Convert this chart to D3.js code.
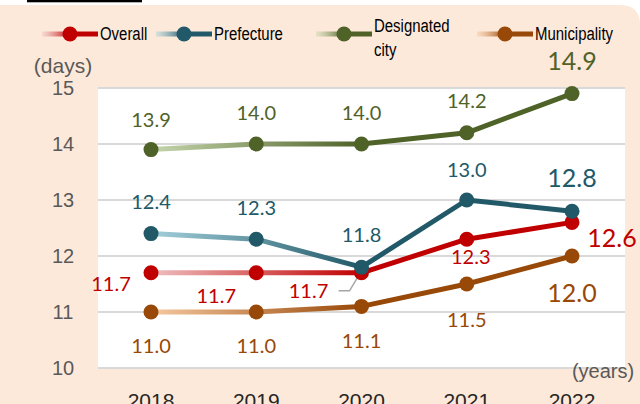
<!DOCTYPE html>
<html>
<head>
<meta charset="utf-8">
<script src="https://cdn.jsdelivr.net/npm/d3@7"></script>
<style>
  body { margin: 0; background: #fff; }
  svg { display: block; }
</style>
</head>
<body>
<svg id="chart" width="640" height="404"></svg>
<script>
// data
const years = ["2018", "2019", "2020", "2021", "2022"];
const overall = [11.7, 11.7, 11.7, 12.3, 12.6];
const prefecture = [12.4, 12.3, 11.8, 13.0, 12.8];
const designated = [13.9, 14.0, 14.0, 14.2, 14.9];
const municipality = [11.0, 11.0, 11.1, 11.5, 12.0];
const yTicks = [10, 11, 12, 13, 14, 15];

const seriesNames = ["Overall", "Prefecture", "Designated city", "Municipality"];
const seriesValues = [overall, prefecture, designated, municipality];
const seriesColors = ["#c00000", "#215968", "#4f6228", "#984807"];
const seriesLight = ["#efbfc1", "#a3cfdb", "#c6d6ad", "#f6c8a0"];

// label offsets (dx, dy to baseline) from each point
const labelOffsets = [
  [[-40, 18], [-40, 30], [-53, 25], [4, 25], [40, 25]],
  [[0, -25], [0, -24], [0, -25], [0, -23], [0, -24]],
  [[0, -23], [0, -24], [0, -24], [0, -25], [0, -24]],
  [[0, 41], [0, 41], [0, 42], [0, 43], [0, 46]]
];
const legendX = [42, 156, 316, 477];

const svg = d3.select("#chart");
const sans = "'Liberation Sans', Arial, sans-serif";
const labelFont = "Lato, 'Open Sans', sans-serif";

const plot = { left: 98, right: 625, top: 88, bottom: 368 };

const x = d3.scalePoint().domain(years).range([151, 572]);
const y = d3.scaleLinear().domain([10, 15]).range([plot.bottom, plot.top]);

// squeeze a text to look like a narrow face
function narrow(sel, k) {
  sel.each(function () {
    const w = this.getComputedTextLength();
    d3.select(this)
      .attr("textLength", w * k)
      .attr("lengthAdjust", "spacingAndGlyphs");
  });
}

// peach panel with rounded top-right corner
svg.append("path")
  .attr("d", "M-10,5 H620 Q640,5 640,25 V420 H-10 Z")
  .attr("fill", "#fde9d9");

// cropped heading at the very top
svg.append("text")
  .attr("x", 27)
  .attr("y", -2)
  .attr("textLength", 115)
  .attr("lengthAdjust", "spacingAndGlyphs")
  .style("font", "bold 18px " + sans)
  .style("fill", "#000")
  .text("(by year)");
svg.append("rect")
  .attr("x", 27).attr("y", 0)
  .attr("width", 115).attr("height", 2.3)
  .attr("fill", "#000");

// plot area
svg.append("rect")
  .attr("x", plot.left)
  .attr("y", plot.top)
  .attr("width", plot.right - plot.left)
  .attr("height", plot.bottom - plot.top)
  .attr("fill", "#fff");

svg.append("g")
  .selectAll("line")
  .data(yTicks)
  .enter()
  .append("line")
  .attr("x1", plot.left)
  .attr("x2", plot.right)
  .attr("y1", (d) => y(d))
  .attr("y2", (d) => y(d))
  .attr("stroke", "#d9d9d9")
  .attr("stroke-width", 2);

// y tick labels
svg.append("g")
  .selectAll("text")
  .data(yTicks)
  .enter()
  .append("text")
  .attr("x", 63)
  .attr("y", (d) => y(d))
  .attr("dy", "0.35em")
  .attr("text-anchor", "middle")
  .style("font", "20px " + sans)
  .style("fill", "#595959")
  .text((d) => d);

svg.append("text")
  .attr("x", 63).attr("y", 73)
  .attr("text-anchor", "middle")
  .style("font", "21px " + sans)
  .style("fill", "#595959")
  .text("(days)");

svg.append("text")
  .attr("x", 603).attr("y", 378)
  .attr("text-anchor", "middle")
  .style("font", "20px " + sans)
  .style("fill", "#595959")
  .text("(years)");

// x labels (cut at the bottom edge)
svg.append("g")
  .selectAll("text")
  .data(years)
  .enter()
  .append("text")
  .attr("x", (d) => x(d))
  .attr("y", 408)
  .attr("text-anchor", "middle")
  .style("font", "21px " + sans)
  .style("fill", "#262626")
  .text((d) => d);

// gradients: faded early years
const defs = svg.append("defs");
seriesColors.forEach(function (c, i) {
  const g = defs.append("linearGradient")
    .attr("id", "grad" + i)
    .attr("gradientUnits", "userSpaceOnUse")
    .attr("x1", x(years[0])).attr("x2", x(years[2]))
    .attr("y1", 0).attr("y2", 0);
  g.append("stop").attr("offset", 0).attr("stop-color", seriesLight[i]);
  g.append("stop").attr("offset", 1).attr("stop-color", c);

  const lg = defs.append("linearGradient")
    .attr("id", "lgrad" + i)
    .attr("gradientUnits", "userSpaceOnUse")
    .attr("x1", legendX[i]).attr("x2", legendX[i] + 28)
    .attr("y1", 0).attr("y2", 0);
  lg.append("stop").attr("offset", 0).attr("stop-color", seriesLight[i]).attr("stop-opacity", 0.4);
  lg.append("stop").attr("offset", 1).attr("stop-color", c);
});

const line = d3.line()
  .x((d, i) => x(years[i]))
  .y((d) => y(d));

// leader line for the 2020 overall label
const lp = [x(years[2]), y(overall[2])];
svg.append("polyline")
  .attr("points", [[lp[0] - 23, lp[1] + 18], [lp[0] - 12, lp[1] + 18], [lp[0] - 3, lp[1] + 3]].join(" "))
  .attr("fill", "none")
  .attr("stroke", "#a6a6a6")
  .attr("stroke-width", 1.5);

seriesValues.forEach(function (vals, i) {
  const g = svg.append("g");
  g.append("path")
    .attr("d", line(vals))
    .attr("fill", "none")
    .attr("stroke", "url(#grad" + i + ")")
    .attr("stroke-width", 5)
    .attr("stroke-linejoin", "round");
  g.selectAll("circle")
    .data(vals)
    .enter()
    .append("circle")
    .attr("cx", (d, j) => x(years[j]))
    .attr("cy", (d) => y(d))
    .attr("r", 7.5)
    .attr("fill", seriesColors[i]);
});

// data labels
seriesValues.forEach(function (vals, i) {
  svg.append("g")
    .selectAll("text")
    .data(vals)
    .enter()
    .append("text")
    .attr("x", (d, j) => x(years[j]) + labelOffsets[i][j][0])
    .attr("y", (d, j) => y(d) + labelOffsets[i][j][1])
    .attr("text-anchor", "middle")
    .style("font-family", labelFont)
    .style("font-size", (d, j) => (j === vals.length - 1 ? "25px" : "20px"))
    .style("fill", seriesColors[i])
    .text((d) => d.toFixed(1));
});

// legend
seriesNames.forEach(function (name, i) {
  const lx = legendX[i];
  const ly = 34;
  const g = svg.append("g");
  g.append("line")
    .attr("x1", lx).attr("x2", lx + 56)
    .attr("y1", ly).attr("y2", ly)
    .attr("stroke", "url(#lgrad" + i + ")")
    .attr("stroke-width", 5);
  g.append("circle")
    .attr("cx", lx + 28).attr("cy", ly)
    .attr("r", 7.5)
    .attr("fill", seriesColors[i]);
  const words = name === "Designated city" ? ["Designated", "city"] : [name];
  words.forEach(function (w, k) {
    g.append("text")
      .attr("x", lx + 58)
      .attr("y", words.length > 1 ? 32 + k * 24 : 40)
      .style("font", "18px " + sans)
      .style("fill", "#000")
      .text(w)
      .call(narrow, 0.83);
  });
});
</script>
</body>
</html>
